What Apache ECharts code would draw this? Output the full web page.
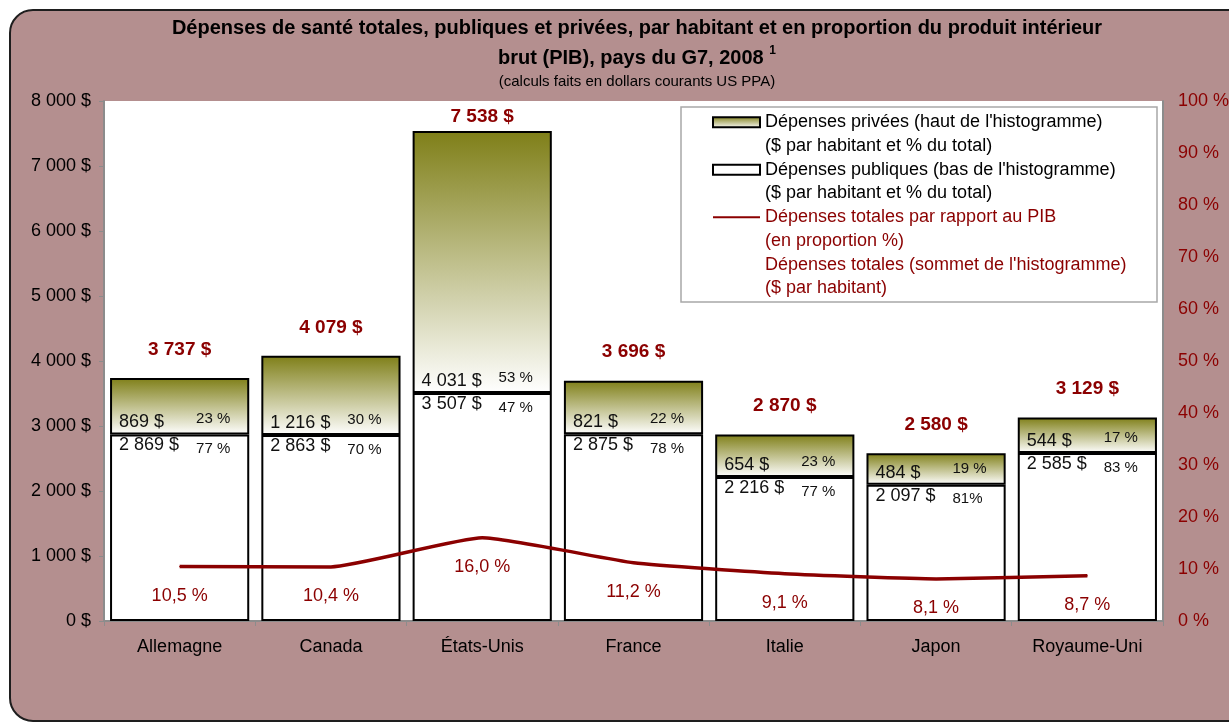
<!DOCTYPE html>
<html>
<head>
<meta charset="utf-8">
<script src="https://cdn.jsdelivr.net/npm/echarts@6/dist/echarts.min.js"></script>
<style>
  html, body { margin: 0; padding: 0; background: #fff; overflow: hidden; }
  #bg {
    position: absolute; left: 9px; top: 9px; width: 1250px; height: 709px;
    background: #b48f8f; border: 2px solid #1e1e1e; border-radius: 24px;
  }
  #chart { position: absolute; left: 0; top: 0; width: 1229px; height: 725px; }
</style>
</head>
<body>
<div id="bg"></div>
<div id="chart"></div>
<script>
// données G7, 2008
var categories = ['Allemagne', 'Canada', 'États-Unis', 'France', 'Italie', 'Japon', 'Royaume-Uni']
var publicValues = [2869, 2863, 3507, 2875, 2216, 2097, 2585]
var privateValues = [869, 1216, 4031, 821, 654, 484, 544]
var publicPct = ['77 %', '70 %', '47 %', '78 %', '77 %', '81%', '83 %']
var privatePct = ['23 %', '30 %', '53 %', '22 %', '23 %', '19 %', '17 %']
var totalValues = [3737, 4079, 7538, 3696, 2870, 2580, 3129]
var gdpShare = [10.5, 10.4, 16.0, 11.2, 9.1, 8.1, 8.7]

var RED = '#8b0000'
var FONT = '"Liberation Sans", Arial, sans-serif'

var namePrivate = "Dépenses privées (haut de l'histogramme)\n($ par habitant et % du total)"
var namePublic = "Dépenses publiques (bas de l'histogramme)\n($ par habitant et % du total)"
var nameRatio = 'Dépenses totales par rapport au PIB\n(en proportion %)'
var nameTotal = "Dépenses totales (sommet de l'histogramme)\n($ par habitant)"

function dollars(v) {
  return String(v).replace(/\B(?=(\d{3})+(?!\d))/g, ' ') + ' $'
}

var chart = echarts.init(document.getElementById('chart'))
chart.setOption({
  textStyle: { fontFamily: FONT },
  title: {
    text: 'Dépenses de santé totales, publiques et privées, par habitant et en proportion du produit intérieur\nbrut (PIB), pays du G7, 2008 {sup|1}',
    subtext: '(calculs faits en dollars courants US PPA)',
    left: 632,
    top: 8,
    textAlign: 'center',
    itemGap: 1,
    textStyle: {
      fontSize: 20,
      fontWeight: 'bold',
      color: '#000',
      lineHeight: 30,
      rich: {
        sup: { fontSize: 12, fontWeight: 'bold', lineHeight: 16, padding: [0, 0, 14, 0] }
      }
    },
    subtextStyle: { fontSize: 15, color: '#000', lineHeight: 16 }
  },
  graphic: [
    {
      type: 'rect',
      z: 3,
      shape: { x: 681, y: 107, width: 476, height: 195 },
      style: { fill: '#fff', stroke: '#a8a8a8', lineWidth: 1.5 }
    }
  ],
  legend: {
    orient: 'vertical',
    left: 712,
    top: 87,
    padding: 0,
    itemGap: -23,
    itemWidth: 47,
    itemHeight: 10,
    itemTextGap: 5,
    selectedMode: false,
    // ligne vide en tête : le symbole se cale sur la première ligne du texte
    formatter: function(name) { return '\n' + name },
    textStyle: { fontSize: 18, lineHeight: 23.5, color: '#000' },
    data: [
      { name: namePrivate, icon: 'rect' },
      { name: namePublic, icon: 'rect' },
      { name: nameRatio, itemStyle: { color: 'rgba(0,0,0,0)', borderWidth: 0 }, textStyle: { color: RED } },
      { name: nameTotal, icon: 'rect', textStyle: { color: RED } }
    ]
  },
  grid: {
    left: 104,
    right: 66,
    top: 101,
    bottom: 104,
    outerBoundsMode: 'none',
    show: true,
    backgroundColor: '#fff',
    borderWidth: 0
  },
  xAxis: {
    type: 'category',
    data: categories,
    axisLine: { lineStyle: { color: '#8c8c8c', width: 2 } },
    axisTick: { show: true, length: 5, lineStyle: { color: '#8c8c8c' } },
    axisLabel: { fontSize: 18, color: '#000', margin: 17 }
  },
  yAxis: [
    {
      type: 'value',
      min: 0,
      max: 8000,
      interval: 1000,
      splitLine: { show: false },
      axisLine: { show: true, lineStyle: { color: '#8c8c8c', width: 2 } },
      axisTick: { show: true, length: 5, lineStyle: { color: '#8c8c8c' } },
      axisLabel: { fontSize: 18, color: '#000', margin: 13, formatter: dollars }
    },
    {
      type: 'value',
      position: 'right',
      min: 0,
      max: 100,
      interval: 10,
      splitLine: { show: false },
      axisLine: { show: true, lineStyle: { color: '#8c8c8c', width: 2 } },
      axisTick: { show: false },
      axisLabel: { fontSize: 18, color: RED, margin: 15, formatter: '{value} %' }
    }
  ],
  series: [
    {
      name: namePublic,
      type: 'bar',
      stack: 'dep',
      barCategoryGap: '8%',
      data: publicValues,
      itemStyle: { color: '#fff', borderColor: '#000', borderWidth: 2 },
      label: {
        show: true,
        position: 'insideTopLeft',
        distance: 0,
        offset: [9, 2],
        formatter: function(p) {
          return '{v|' + dollars(p.value) + '}{p|' + publicPct[p.dataIndex] + '}'
        },
        rich: {
          v: { fontSize: 18, color: '#111', width: 77, lineHeight: 20, verticalAlign: 'top' },
          p: { fontSize: 15, color: '#111', lineHeight: 20, padding: [5, 0, 0, 0], verticalAlign: 'top' }
        }
      }
    },
    {
      name: namePrivate,
      type: 'bar',
      stack: 'dep',
      data: privateValues,
      itemStyle: {
        color: new echarts.graphic.LinearGradient(0, 0, 0, 1, [
          { offset: 0, color: '#7f7f18' },
          { offset: 1, color: '#ffffff' }
        ]),
        borderColor: '#000',
        borderWidth: 2
      },
      label: {
        show: true,
        position: 'insideBottomLeft',
        distance: 3,
        offset: [6, 0],
        formatter: function(p) {
          return '{v|' + dollars(p.value) + '}{p|' + privatePct[p.dataIndex] + '}'
        },
        rich: {
          v: { fontSize: 18, color: '#111', width: 77, lineHeight: 20, padding: [6, 0, 0, 0], verticalAlign: 'bottom' },
          p: { fontSize: 15, color: '#111', lineHeight: 20, verticalAlign: 'top' }
        }
      }
    },
    {
      name: nameRatio,
      type: 'line',
      yAxisIndex: 1,
      data: gdpShare,
      symbol: 'circle',
      symbolSize: 1,
      showSymbol: true,
      smooth: 0.15,
      z: 5,
      lineStyle: { color: RED, width: 3.5 },
      itemStyle: { color: RED },
      labelLayout: { hideOverlap: false },
      label: {
        show: true,
        position: 'bottom',
        distance: 20,
        fontSize: 18,
        color: RED,
        formatter: function(p) {
          return p.value.toFixed(1).replace('.', ',') + ' %'
        }
      }
    },
    {
      name: nameTotal,
      type: 'scatter',
      symbolSize: 0,
      data: totalValues.map(function(v) {
        return { value: v, label: { distance: v > 7000 ? 5 : 19 } }
      }),
      itemStyle: { color: 'rgba(0,0,0,0)', opacity: 1 },
      label: {
        show: true,
        position: 'top',
        fontSize: 19,
        fontWeight: 'bold',
        color: RED,
        opacity: 1,
        formatter: function(p) { return dollars(p.value) }
      }
    }
  ]
})
window.addEventListener('resize', function() {
  chart.resize()
})
</script>
</body>
</html>
